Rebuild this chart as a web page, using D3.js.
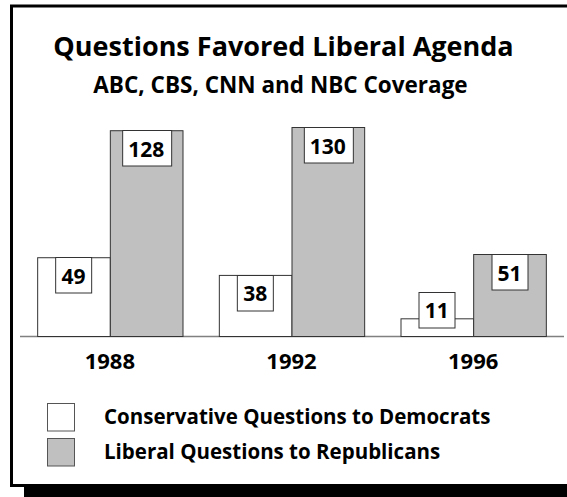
<!DOCTYPE html>
<html>
<head>
<meta charset="utf-8">
<script src="https://cdn.jsdelivr.net/npm/d3@7"></script>
<style>
  html, body { margin: 0; padding: 0; background: #fff; }
  svg { display: block; }
  text { font-family: "Open Sans", Lato, sans-serif; font-weight: bold; fill: #000; }
</style>
</head>
<body>
<svg id="chart" width="567" height="497"></svg>
<script>
const years = ["1988", "1992", "1996"];
const seriesNames = ["Conservative Questions to Democrats", "Liberal Questions to Republicans"];
const conservativeToDemocrats = [49, 38, 11];
const liberalToRepublicans = [128, 130, 51];
const seriesColors = ["#ffffff", "#c0c0c0"];
const titleText = "Questions Favored Liberal Agenda";
const subtitleText = "ABC, CBS, CNN and NBC Coverage";

const svg = d3.select("#chart");

// frame with drop shadow
svg.append("rect").attr("x", 24).attr("y", 484).attr("width", 600).attr("height", 20).attr("fill", "#000");
svg.append("rect").attr("x", 11.5).attr("y", 6).attr("width", 600).attr("height", 479.5)
  .attr("fill", "#fff").attr("stroke", "#000").attr("stroke-width", 3);

// titles
svg.append("text").attr("x", 283.5).attr("y", 56).attr("text-anchor", "middle")
  .style("font-size", "27px").text(titleText);
svg.append("text").attr("x", 280.5).attr("y", 93).attr("text-anchor", "middle")
  .style("font-size", "22.5px").text(subtitleText);

const baseY = 336;
const x = d3.scaleBand().domain(years).range([19, 564]).paddingInner(0.2).paddingOuter(0.1);
const xs = d3.scaleBand().domain(seriesNames).range([0, x.bandwidth()]);
const y = d3.scaleLinear().domain([0, 130]).range([baseY, 127]);

const data = years.map((yr, i) => ({
  year: yr,
  values: [
    { s: seriesNames[0], v: conservativeToDemocrats[i], c: seriesColors[0] },
    { s: seriesNames[1], v: liberalToRepublicans[i], c: seriesColors[1] }
  ]
}));

// baseline
svg.append("line").attr("x1", x.range()[0] + 1).attr("x2", x.range()[1])
  .attr("y1", baseY + 0.5).attr("y2", baseY + 0.5)
  .attr("stroke", "#808080").attr("stroke-width", 1.5);

const groups = svg.selectAll("g.grp").data(data).join("g")
  .attr("class", "grp")
  .attr("transform", d => `translate(${x(d.year)},0)`);

groups.selectAll("rect.bar").data(d => d.values).join("rect")
  .attr("class", "bar")
  .attr("x", d => xs(d.s) + 0.5)
  .attr("y", d => y(d.v) + 0.5)
  .attr("width", xs.bandwidth())
  .attr("height", d => baseY - y(d.v))
  .attr("fill", d => d.c)
  .attr("stroke", "#333").attr("stroke-width", 1);

// value label boxes
groups.each(function(d) {
  const g = d3.select(this);
  d.values.forEach(v => {
    const cx = xs(v.s) + xs.bandwidth() / 2;
    const t = g.append("text").attr("text-anchor", "middle").style("font-size", "21px").text(v.v);
    const nDigits = String(v.v).length;
    const w = nDigits * 12.6 + 11;
    const h = 35.5;
    const top = Math.min(y(v.v), baseY - 44.5);
    g.insert("rect", function() { return t.node(); })
      .attr("x", Math.round(cx - w / 2) + 0.5).attr("y", Math.round(top) + 0.5)
      .attr("width", Math.round(w)).attr("height", h)
      .attr("fill", "#fff").attr("stroke", "#333").attr("stroke-width", 1);
    t.attr("x", cx).attr("y", top + 26.5);
  });
});

// year labels
svg.selectAll("text.year").data(years).join("text")
  .attr("class", "year")
  .attr("x", d => x(d) + x.bandwidth() / 2)
  .attr("y", 368.5)
  .attr("text-anchor", "middle")
  .style("font-size", "22px")
  .text(d => d);

// legend
const legend = svg.selectAll("g.leg").data(seriesNames).join("g")
  .attr("class", "leg")
  .attr("transform", (d, i) => `translate(47,${403 + i * 35})`);
legend.append("rect").attr("x", 0.5).attr("y", 0.5).attr("width", 27).attr("height", 27.5)
  .attr("fill", (d, i) => seriesColors[i]).attr("stroke", "#555").attr("stroke-width", 1);
legend.append("text").attr("x", 57).attr("y", 20.5).style("font-size", "20.5px").text(d => d);
</script>
</body>
</html>
